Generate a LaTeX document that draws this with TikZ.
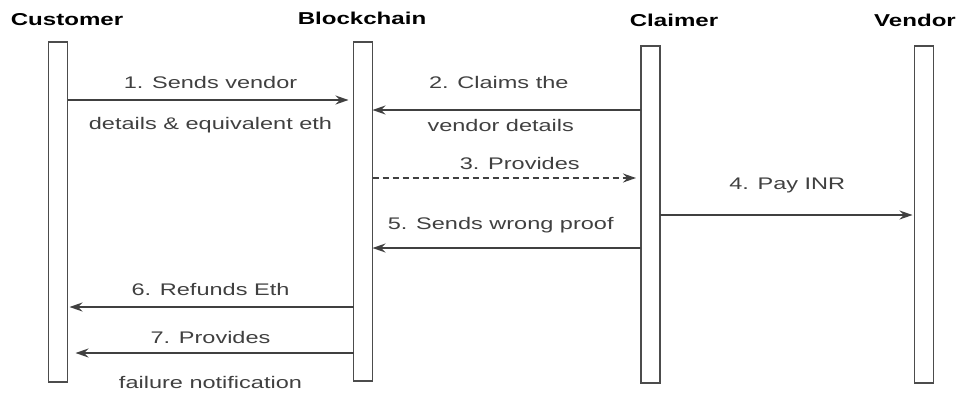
\documentclass[tikz,border=0pt]{standalone}
\usepackage{fontspec}
\setmainfont{Liberation Sans}[FakeStretch=1.4]
\usetikzlibrary{arrows.meta, positioning}

\begin{document}
\begin{tikzpicture}[
  x=0.5pt, y=-0.5pt,
  life/.style={rectangle, draw=black!70, fill=white, line width=0.8pt, minimum width=9.5pt, inner sep=0pt, outer sep=0pt},
  actor/.style={font=\fontsize{8.6}{11}\selectfont\bfseries},
  lbl/.style={font=\fontsize{8.4}{10}\selectfont, text=black!75},
  msg/.style={-{Stealth[length=6.5pt, width=4.5pt]}, draw=black!75, line width=0.7pt},
  reply/.style={msg, dash pattern=on 3pt off 2pt},
]
\useasboundingbox (0,0) rectangle (957,392);

%% Lifelines
\node[life, minimum height=170pt]   (cust)  at (58,212)     {};
\node[life, minimum height=169.5pt] (chain) at (363,211.5)  {};
\node[life, minimum height=168.5pt] (claim) at (650.5,214.5) {};
\node[life, minimum height=168.5pt] (vend)  at (924,214.5)  {};

%% Actors
\node[actor] (custhd)  at (67,20)  {Customer};
\node[actor] (chainhd) at (362,18) {Blockchain};
\node[actor] (claimhd) at (674,20) {Claimer};
\node[actor] (vendhd)  at (915,20) {Vendor};

%% Messages
\draw[msg, shorten >=2.5pt] (cust.east |- 0,100) --
  node[lbl, yshift=9pt]{1. Sends vendor}
  node[lbl, yshift=-12.5pt]{details \& equivalent eth} (chain.west |- 0,100);
\draw[msg] (claim.west |- 0,110) --
  node[lbl, xshift=-4pt, yshift=14pt]{2. Claims the}
  node[lbl, xshift=-3pt, yshift=-7.5pt]{vendor details} (chain.east |- 0,110);
\draw[reply, shorten >=2.5pt] (chain.east |- 0,178) --
  node[lbl, xshift=6.5pt, yshift=7.5pt]{3. Provides} (claim.west |- 0,178);
\draw[msg, shorten >=1pt] (claim.east |- 0,215) --
  node[lbl, yshift=15pt]{4. Pay INR} (vend.west |- 0,215);
\draw[msg] (claim.west |- 0,248) --
  node[lbl, xshift=-3pt, yshift=11.5pt]{5. Sends wrong proof} (chain.east |- 0,248);
\draw[msg, shorten >=1pt] (chain.west |- 0,307) --
  node[lbl, yshift=9pt]{6. Refunds Eth} (cust.east |- 0,307);
\draw[msg, shorten >=4pt] (chain.west |- 0,353) --
  node[lbl, yshift=8pt]{7. Provides}
  node[lbl, yshift=-14.5pt]{failure notification} (cust.east |- 0,353);
\end{tikzpicture}
\end{document}
